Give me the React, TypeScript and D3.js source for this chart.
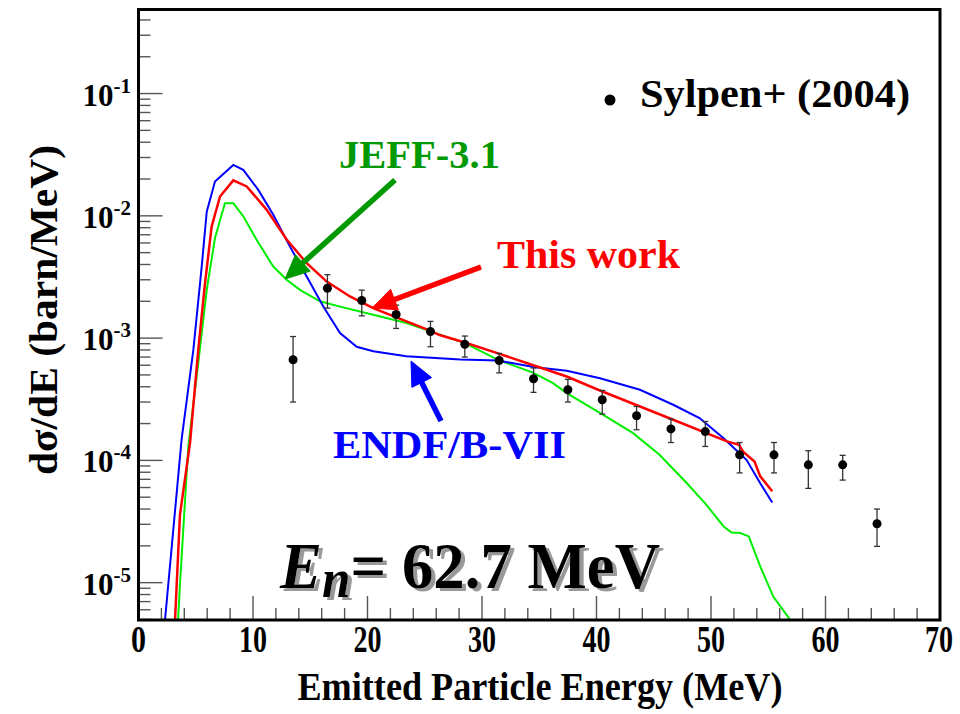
import React from "react";
import * as d3 from "d3";

// ---------- data ----------
const xTickValues = [0, 10, 20, 30, 40, 50, 60, 70];
const yDecades = [-1, -2, -3, -4, -5];

// ENDF/B-VII (blue)
const endfE = [2.31, 3.76, 4.79, 5.52, 5.96, 6.68, 8.28, 9.15, 10.46, 11.77, 13.23, 14.69, 16.14, 17.6, 19.06, 20.5, 23.4, 28.1, 31.4, 34.5, 37.4, 40.3, 43.8, 46.7, 49.0, 51.1, 53.1, 54.3, 55.35];
const endfV = [4.9e-6, 1.47e-4, 8.0e-4, 3.85e-3, 1.08e-2, 1.91e-2, 2.61e-2, 2.38e-2, 1.63e-2, 1.02e-2, 5.6e-3, 3.19e-3, 1.81e-3, 1.1e-3, 8.5e-4, 7.8e-4, 7.1e-4, 6.7e-4, 6.56e-4, 5.8e-4, 5.4e-4, 4.7e-4, 3.78e-4, 2.85e-4, 2.22e-4, 1.52e-4, 1.01e-4, 6.5e-5, 4.53e-5];

// This work (red)
const thisE = [3.19, 3.62, 4.5, 5.22, 5.81, 6.39, 7.12, 8.28, 9.45, 11.2, 12.94, 14.69, 16.44, 18.47, 20.5, 23.4, 25.46, 26.3, 28.5, 31.4, 35.2, 37.4, 40.3, 43.8, 46.7, 49.6, 51.4, 52.45, 52.8, 53.8, 54.3, 55.35];
const thisV = [4.9e-6, 3.59e-5, 1.39e-4, 8.0e-4, 2.82e-3, 8.2e-3, 1.44e-2, 1.95e-2, 1.74e-2, 1.12e-2, 6.4e-3, 4.1e-3, 2.9e-3, 2.19e-3, 1.76e-3, 1.37e-3, 1.15e-3, 1.06e-3, 9.2e-4, 7.5e-4, 5.7e-4, 4.85e-4, 3.73e-4, 2.76e-4, 2.15e-4, 1.67e-4, 1.43e-4, 1.34e-4, 1.18e-4, 9.8e-5, 7.4e-5, 5.6e-5];

// JEFF-3.1 (green)
const jeffE = [3.45, 3.62, 4.35, 5.22, 5.96, 6.68, 7.55, 8.28, 9.15, 10.3, 11.77, 12.94, 14.1, 15.85, 17.6, 20.5, 23.4, 25.46, 28.5, 31.4, 34.5, 36.2, 37.4, 40.3, 43.2, 45.5, 47.9, 49.6, 51.1, 51.8, 52.55, 53.3, 54.3, 55.44, 56.96];
const jeffV = [4.9e-6, 9.6e-6, 1.3e-4, 6.25e-4, 2.48e-3, 6.6e-3, 1.27e-2, 1.27e-2, 9.9e-3, 6.4e-3, 3.85e-3, 3.0e-3, 2.48e-3, 2.0e-3, 1.81e-3, 1.55e-3, 1.33e-3, 1.14e-3, 9.1e-4, 6.65e-4, 5.2e-4, 4.28e-4, 3.55e-4, 2.45e-4, 1.67e-4, 1.11e-4, 6.5e-5, 4.33e-5, 2.88e-5, 2.57e-5, 2.55e-5, 2.39e-5, 1.36e-5, 7.7e-6, 4.9e-6];

// Sylpen+ (2004) experimental points
const expE = [13.5, 16.5, 19.5, 22.5, 25.5, 28.5, 31.5, 34.5, 37.5, 40.5, 43.5, 46.5, 49.5, 52.5, 55.5, 58.5, 61.5, 64.5];
const expV = [6.65e-4, 2.56e-3, 2.03e-3, 1.56e-3, 1.13e-3, 8.9e-4, 6.56e-4, 4.65e-4, 3.78e-4, 3.13e-4, 2.32e-4, 1.81e-4, 1.72e-4, 1.11e-4, 1.11e-4, 9.2e-5, 9.2e-5, 3.03e-5];
const expHi = [1.03e-3, 3.3e-3, 2.47e-3, 1.86e-3, 1.37e-3, 1.04e-3, 7.5e-4, 5.7e-4, 4.6e-4, 3.73e-4, 2.76e-4, 2.18e-4, 2.08e-4, 1.4e-4, 1.4e-4, 1.2e-4, 1.1e-4, 4.0e-5];
const expLo = [3.0e-4, 1.76e-3, 1.52e-3, 1.2e-3, 8.5e-4, 7.0e-4, 5.2e-4, 3.6e-4, 3.0e-4, 2.39e-4, 1.78e-4, 1.4e-4, 1.3e-4, 7.9e-5, 7.9e-5, 5.9e-5, 6.9e-5, 1.98e-5];

// ---------- layout ----------
const W = 960, H = 714;
const L = 138.5, R = 940, T = 9.5, B = 620;
const FONT = "'Liberation Serif', 'Times New Roman', Times, serif";

const x = d3.scaleLinear().domain([0, 70]).range([L, R]);
const y = d3.scaleLog().domain([4.95e-6, 0.487]).range([B, T]);

const line = d3
  .line<[number, number]>()
  .x((d) => x(d[0]))
  .y((d) => y(d[1]));

const zip = (a: number[], b: number[]) => a.map((v, i) => [v, b[i]] as [number, number]);

function arrowPath(x0: number, y0: number, x1: number, y1: number, headLen = 24, headHalf = 11) {
  const dx = x1 - x0, dy = y1 - y0;
  const len = Math.hypot(dx, dy);
  const ux = dx / len, uy = dy / len;
  const bx = x1 - ux * headLen, by = y1 - uy * headLen;
  const px = -uy, py = ux;
  return {
    shaft: `M${x0},${y0}L${bx + ux * 2},${by + uy * 2}`,
    head: `M${x1},${y1}L${bx + px * headHalf},${by + py * headHalf}L${bx - px * headHalf},${by - py * headHalf}Z`,
  };
}

function Arrow({ x0, y0, x1, y1, color }: { x0: number; y0: number; x1: number; y1: number; color: string }) {
  const p = arrowPath(x0, y0, x1, y1);
  return (
    <g>
      <path d={p.shaft} stroke={color} strokeWidth={5.5} fill="none" />
      <path d={p.head} fill={color} stroke={color} strokeWidth={1} />
    </g>
  );
}

export default function App() {
  const xMinor: number[] = d3.range(0, 71, 2).filter((v) => v % 10 !== 0);
  const yMinor: number[] = [];
  for (let e = -6; e <= -1; e++) {
    for (let m = 2; m <= 9; m++) {
      const v = m * Math.pow(10, e);
      if (v >= 4.95e-6 && v <= 0.487) yMinor.push(v);
    }
  }

  return (
    <svg width={W} height={H} style={{ position: "absolute", left: 0, top: 0, background: "#fff" }} fontFamily={FONT}>
      <defs>
        <clipPath id="plotclip">
          <rect x={L} y={T} width={R - L} height={B - T} />
        </clipPath>
        <filter id="shadow" x="-10%" y="-20%" width="130%" height="150%">
          <feDropShadow dx={4} dy={3} stdDeviation={0.6} floodColor="#999" floodOpacity={1} />
        </filter>
      </defs>
      <rect x={0} y={0} width={W} height={H} fill="#fff" />

      {/* ticks */}
      <g stroke="#555" strokeWidth={1.4}>
        {xTickValues.map((v) => (
          <line key={"xM" + v} x1={x(v)} x2={x(v)} y1={B} y2={B - 24} />
        ))}
        {xMinor.map((v) => (
          <line key={"xm" + v} x1={x(v)} x2={x(v)} y1={B} y2={B - 12} />
        ))}
        {yDecades.map((d) => (
          <line key={"yM" + d} x1={L} x2={L + 24} y1={y(Math.pow(10, d))} y2={y(Math.pow(10, d))} />
        ))}
        {yMinor.map((v, i) => (
          <line key={"ym" + i} x1={L} x2={L + 12} y1={y(v)} y2={y(v)} />
        ))}
      </g>

      {/* curves */}
      <g clipPath="url(#plotclip)" fill="none">
        <path d={line(zip(jeffE, jeffV)) || ""} stroke="#00ee00" strokeWidth={2} />
        <path d={line(zip(endfE, endfV)) || ""} stroke="#0000ff" strokeWidth={2} />
        <path d={line(zip(thisE, thisV)) || ""} stroke="#ff0000" strokeWidth={2.5} />
      </g>

      {/* experimental data */}
      <g>
        {expE.map((e, i) => {
          const cx = x(e);
          return (
            <g key={"p" + i} stroke="#333" strokeWidth={1.3}>
              <line x1={cx} x2={cx} y1={y(expHi[i])} y2={y(expLo[i])} />
              <line x1={cx - 3} x2={cx + 3} y1={y(expHi[i])} y2={y(expHi[i])} />
              <line x1={cx - 3} x2={cx + 3} y1={y(expLo[i])} y2={y(expLo[i])} />
              <circle cx={cx} cy={y(expV[i])} r={4.5} fill="#000" stroke="none" />
            </g>
          );
        })}
      </g>

      {/* frame */}
      <rect x={L} y={T} width={R - L} height={B - T} fill="none" stroke="#000" strokeWidth={3} />

      {/* x tick labels */}
      <g fontWeight="bold" fontSize={38} textAnchor="middle">
        {xTickValues.map((v) => (
          <text
            key={"xl" + v}
            x={v === 70 ? x(v) - 1 : x(v)}
            y={652}
            textLength={String(v).length === 1 ? 15 : 28}
            lengthAdjust="spacingAndGlyphs"
          >
            {v}
          </text>
        ))}
      </g>

      {/* y tick labels */}
      <g fontWeight="bold" textAnchor="end">
        {yDecades.map((d) => (
          <text key={"yl" + d} x={131} y={y(Math.pow(10, d)) + 12} fontSize={31}>
            10
            <tspan fontSize={21} dy={-13}>{String(d)}</tspan>
          </text>
        ))}
      </g>

      {/* axis titles */}
      <text
        x={540}
        y={700}
        textAnchor="middle"
        fontWeight="bold"
        fontSize={40}
        textLength={485}
        lengthAdjust="spacingAndGlyphs"
      >
        Emitted Particle Energy (MeV)
      </text>
      <text
        transform="translate(57,310) rotate(-90)"
        textAnchor="middle"
        fontWeight="bold"
        fontSize={40}
        textLength={330}
        lengthAdjust="spacingAndGlyphs"
      >
        dσ/dE (barn/MeV)
      </text>

      {/* legend */}
      <circle cx={610} cy={100} r={5.5} fill="#000" />
      <text x={640} y={107} fontWeight="bold" fontSize={41} textLength={270} lengthAdjust="spacingAndGlyphs">
        Sylpen+ (2004)
      </text>

      {/* annotations */}
      <text x={339} y={168} fontWeight="bold" fontSize={41} fill="#009900" textLength={161} lengthAdjust="spacingAndGlyphs">
        JEFF-3.1
      </text>
      <Arrow x0={395} y0={180} x1={285} y1={279} color="#009900" />

      <text x={497} y={268} fontWeight="bold" fontSize={41} fill="#ff0000" textLength={183} lengthAdjust="spacingAndGlyphs">
        This work
      </text>
      <Arrow x0={481} y0={267} x1={372} y1={308} color="#ff0000" />

      <text x={333} y={458} fontWeight="bold" fontSize={41} fill="#0000ff" textLength={233} lengthAdjust="spacingAndGlyphs">
        ENDF/B-VII
      </text>
      <Arrow x0={441} y0={421} x1={411} y1={361} color="#0000ff" />

      {/* big label with drop shadow */}
      <text
        x={280}
        y={588}
        fontWeight="bold"
        fontSize={66}
        fill="#000"
        textLength={380}
        lengthAdjust="spacingAndGlyphs"
        filter="url(#shadow)"
      >
        <tspan fontStyle="italic">E</tspan>
        <tspan fontStyle="italic" fontSize={54} dy={9}>n</tspan>
        <tspan dy={-9}>= 62.7 MeV</tspan>
      </text>
    </svg>
  );
}
